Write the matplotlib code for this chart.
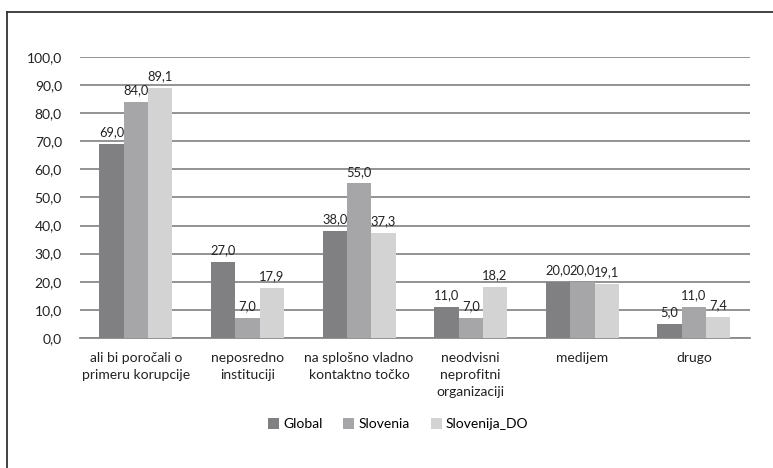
import numpy as np
import matplotlib
matplotlib.use("Agg")
import matplotlib.pyplot as plt
from matplotlib.lines import Line2D

categories = ["ali bi poročali o\nprimeru korupcije", "neposredno\ninstituciji",
              "na splošno vladno\nkontaktno točko", "neodvisni\nneprofitni\norganizaciji",
              "medijem", "drugo"]
series_names = ["Global", "Slovenia", "Slovenija_DO"]
global_vals = [69.0, 27.0, 38.0, 11.0, 20.0, 5.0]
slovenia_vals = [84.0, 7.0, 55.0, 7.0, 20.0, 11.0]
slovenija_do_vals = [89.1, 17.9, 37.3, 18.2, 19.1, 7.4]
colors = ["#808083", "#a6a6a8", "#d3d3d3"]

plt.rcParams['font.family'] = ['Lato', 'DejaVu Sans']
fs = 10

fig = plt.figure(figsize=(7.73, 4.68), dpi=100)
ax = fig.add_axes([0.1035, 0.278, 0.8665, 0.6])

x = np.arange(len(categories))
w = 0.218
data = [global_vals, slovenia_vals, slovenija_do_vals]
for i, (vals, name, c) in enumerate(zip(data, series_names, colors)):
    bars = ax.bar(x + (i - 1) * w, vals, w, color=c, label=name, zorder=3)
    for b, v in zip(bars, vals):
        ax.text(b.get_x() + b.get_width() / 2, v + 2.0, f"{v:.1f}".replace(".", ","),
                ha="center", va="bottom", fontsize=9.3, color="#222222", zorder=4)

ax.set_xlim(-0.5, len(categories) - 0.5)
ax.set_ylim(0, 100)
ax.set_yticks(np.arange(0, 101, 10))
ax.set_yticklabels([f"{t:.1f}".replace(".", ",") for t in np.arange(0, 101, 10)], fontsize=fs)
ax.set_xticks(x)
ax.set_xticklabels(categories, fontsize=fs, linespacing=1.5)
ax.tick_params(axis="both", length=0, colors="#222222")
ax.tick_params(axis="x", pad=10)
ax.tick_params(axis="y", pad=13)
ax.yaxis.grid(True, color="#8a8a8a", linewidth=1.3, zorder=0)
for s in ["top", "right", "left"]:
    ax.spines[s].set_visible(False)
ax.spines["bottom"].set_color("#8a8a8a")
ax.spines["bottom"].set_linewidth(1.3)

fig.legend(loc="center", bbox_to_anchor=(0.515, 0.094), ncol=3, frameon=False,
           fontsize=fs, handlelength=0.8, handleheight=0.8, handletextpad=0.3,
           columnspacing=1.5)

# outer frame (only top and left edges visible)
fig.add_artist(Line2D([7 / 773, 1.0], [1 - 12 / 468, 1 - 12 / 468], color="#333333", lw=1.3))
fig.add_artist(Line2D([7 / 773, 7 / 773], [0, 1 - 12 / 468], color="#333333", lw=1.3))

fig.savefig("out.png", dpi=100)
